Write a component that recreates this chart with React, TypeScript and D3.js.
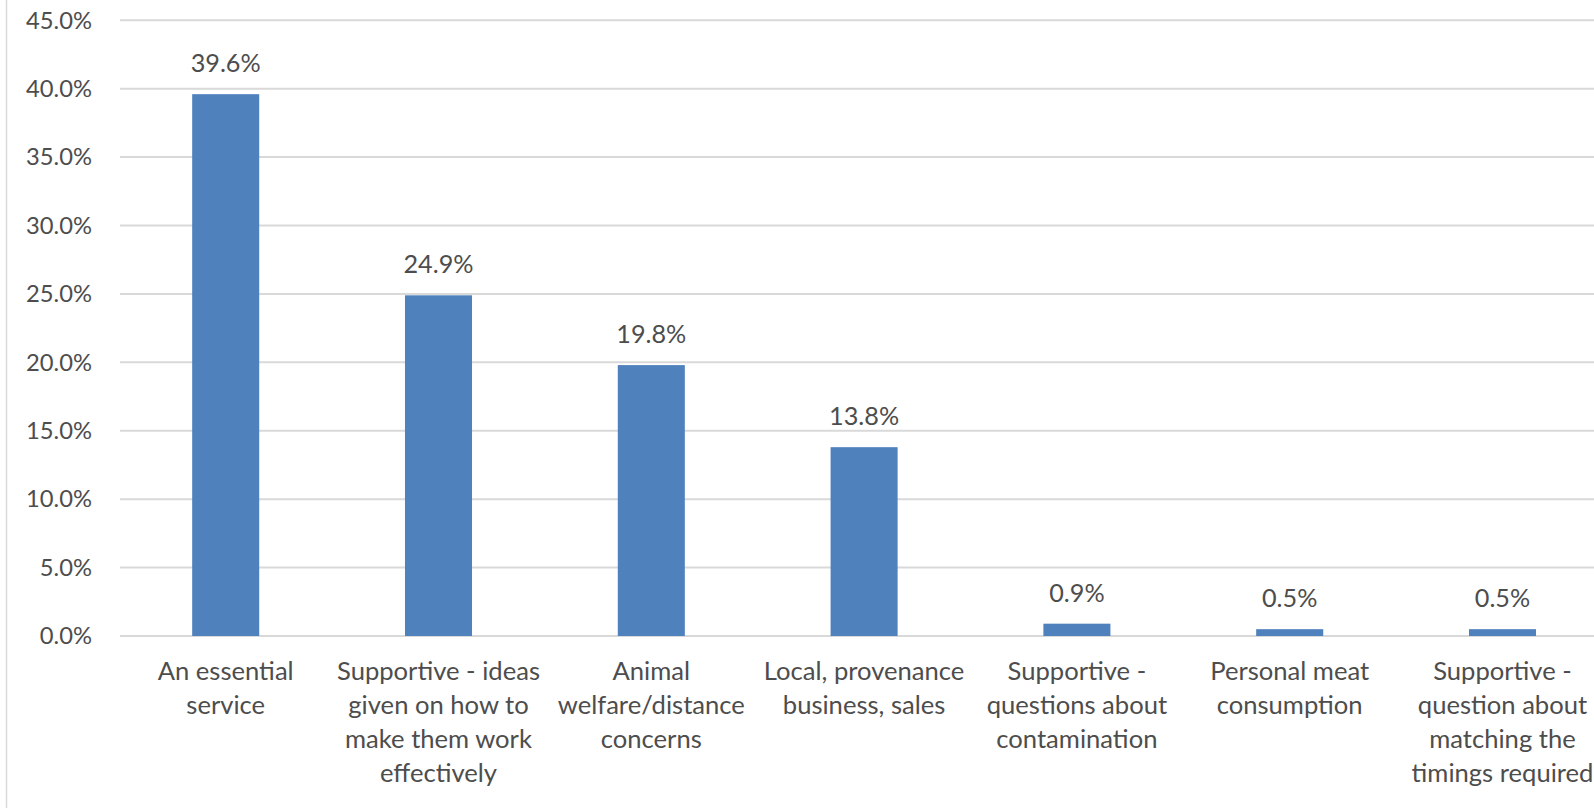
import React, { useMemo } from 'react';
import * as d3 from 'd3';

const categories = [
  'An essential service',
  'Supportive - ideas given on how to make them work effectively',
  'Animal welfare/distance concerns',
  'Local, provenance business, sales',
  'Supportive - questions about contamination',
  'Personal meat consumption',
  'Supportive - question about matching the timings required',
];
const categoryLines = [
  ['An essential', 'service'],
  ['Supportive - ideas', 'given on how to', 'make them work', 'effectively'],
  ['Animal', 'welfare/distance', 'concerns'],
  ['Local, provenance', 'business, sales'],
  ['Supportive -', 'questions about', 'contamination'],
  ['Personal meat', 'consumption'],
  ['Supportive -', 'question about', 'matching the', 'timings required'],
];
const values = [39.6, 24.9, 19.8, 13.8, 0.9, 0.5, 0.5];
const yTicks = [0, 5, 10, 15, 20, 25, 30, 35, 40, 45];

const W = 1594;
const H = 808;
const FONT = 'Lato, "Open Sans", sans-serif';
const TEXT = '#4d4d4d';
const GRID = '#d9d9d9';
const BAR = '#4f81bd';

function fitSize(text: string, target: number): number {
  try {
    const ctx = document.createElement('canvas').getContext('2d');
    if (!ctx) return 25;
    ctx.font = `100px ${FONT}`;
    const w = ctx.measureText(text).width;
    return (100 * target) / w;
  } catch (e) {
    return 25;
  }
}

export default function App() {
  const sizes = useMemo(
    () => ({
      tick: fitSize('45.0%', 66),
      data: fitSize('39.6%', 70),
      cat: fitSize('An essential', 136),
    }),
    []
  );

  const x0 = 119.3;
  const step = 212.8;
  const x = d3
    .scaleBand<string>()
    .domain(categories)
    .range([x0, x0 + step * categories.length])
    .paddingInner(0.685)
    .paddingOuter(0.685 / 2);
  const y = d3.scaleLinear().domain([0, 45]).range([636, 20.3]);
  const fmt = (v: number) => d3.format('.1f')(v) + '%';

  return (
    <svg
      width={W}
      height={H}
      style={{ position: 'absolute', left: 0, top: 0, background: '#fff' }}
      fontFamily={FONT}
    >
      <rect x={0} y={0} width={W} height={H} fill="#fff" />
      <line x1={6.5} x2={6.5} y1={0} y2={H} stroke={GRID} strokeWidth={1.5} />
      {yTicks.map((t) => (
        <g key={t}>
          <line x1={120} x2={W} y1={y(t)} y2={y(t)} stroke={GRID} strokeWidth={2} />
          <text
            x={92}
            y={y(t)}
            dy="0.35em"
            textAnchor="end"
            fontSize={sizes.tick}
            fill={TEXT}
          >
            {fmt(t)}
          </text>
        </g>
      ))}
      {categories.map((c, i) => {
        const bx = x(c) as number;
        const cx = bx + x.bandwidth() / 2;
        return (
          <g key={c}>
            <rect
              x={bx}
              y={y(values[i])}
              width={x.bandwidth()}
              height={y(0) - y(values[i])}
              fill={BAR}
            />
            <text
              x={cx}
              y={y(values[i]) - 22}
              textAnchor="middle"
              fontSize={sizes.data}
              fill={TEXT}
            >
              {fmt(values[i])}
            </text>
            <text textAnchor="middle" fontSize={sizes.cat} fill={TEXT}>
              {categoryLines[i].map((ln, j) => (
                <tspan key={j} x={cx} y={680 + j * 34}>
                  {ln}
                </tspan>
              ))}
            </text>
          </g>
        );
      })}
    </svg>
  );
}
